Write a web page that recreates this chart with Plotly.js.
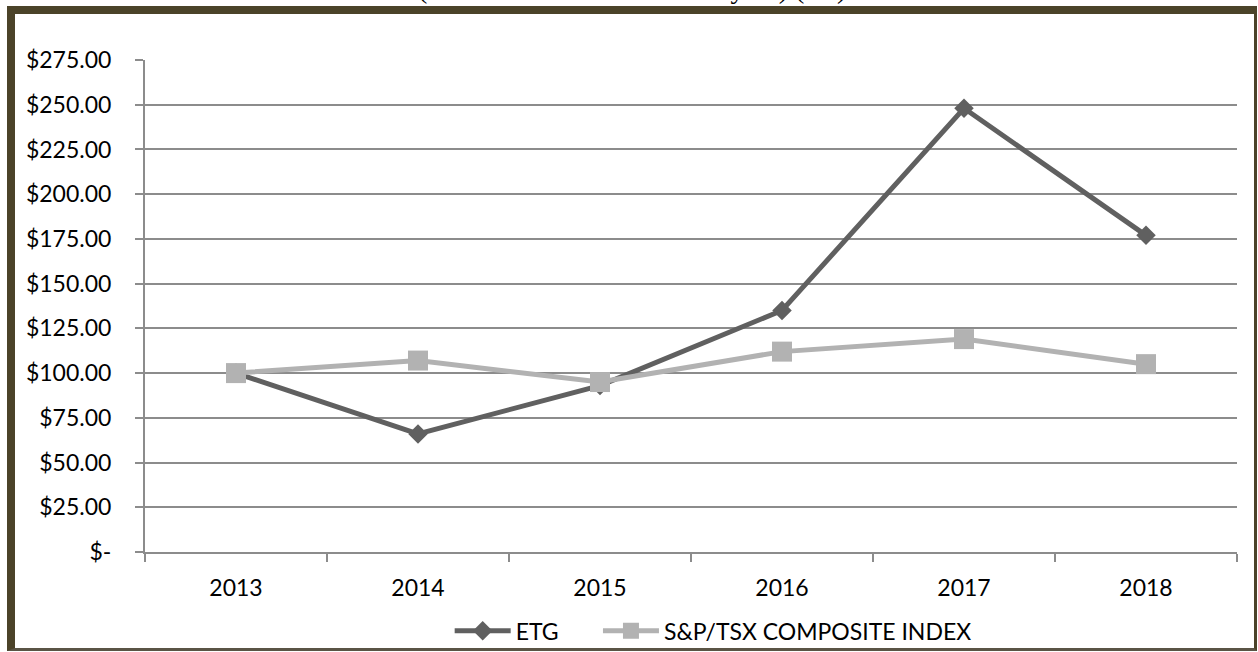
<!DOCTYPE html>
<html>
<head>
<meta charset="utf-8">
<script src="https://cdn.plot.ly/plotly-3.0.1.min.js"></script>
<style>
  html, body { margin: 0; padding: 0; background: #ffffff; }
  #chart { position: absolute; left: 0; top: 0; width: 1258px; height: 652px; }
  #frame { position: absolute; left: 7px; top: 6px; width: 1250px; height: 645px; box-sizing: border-box;
           border-top: 8px solid #4b4329; border-left: 8px solid #4b4329;
           border-right: 3px solid #4b4329; border-bottom: 3px solid #5a5445; pointer-events: none; }
</style>
</head>
<body>
<div id="chart"></div>
<div id="frame"></div>
<script>
const years = ['2013', '2014', '2015', '2016', '2017', '2018'];
const etgValues = [100, 66, 93, 135, 248, 177];
const tsxValues = [100, 107, 95, 112, 119, 105];
const yTickVals = [0, 25, 50, 75, 100, 125, 150, 175, 200, 225, 250, 275];
const yTickText = ['$-', '$25.00', '$50.00', '$75.00', '$100.00', '$125.00', '$150.00', '$175.00', '$200.00', '$225.00', '$250.00', '$275.00'];
const seriesNames = ['ETG', 'S&P/TSX COMPOSITE INDEX'];
const subtitle = '(as at December 31 of each year) (C$)';

const font = 'Lato, "Open Sans", sans-serif';

const etgTrace = {
  x: years, y: etgValues, name: seriesNames[0], type: 'scatter', mode: 'lines+markers',
  legend: 'legend',
  line: { color: '#606060', width: 5 },
  marker: { symbol: 'diamond', size: 15, color: '#606060' }
};
const tsxTrace = {
  x: years, y: tsxValues, name: seriesNames[1], type: 'scatter', mode: 'lines+markers',
  legend: 'legend2',
  line: { color: '#b2b2b2', width: 5 },
  marker: { symbol: 'square', size: 20, color: '#b2b2b2' }
};

const legendFont = { family: font, size: 23, color: '#000000' };

const layout = {
  width: 1258, height: 652,
  margin: { l: 145, r: 21, t: 60, b: 100, autoexpand: false },
  paper_bgcolor: '#ffffff', plot_bgcolor: '#ffffff',
  font: { family: font, size: 23, color: '#000000' },
  showlegend: true,
  legend: {
    orientation: 'h', x: 0.279, xanchor: 'left', y: -0.16, yanchor: 'middle',
    font: legendFont, itemwidth: 56, bgcolor: 'rgba(0,0,0,0)'
  },
  legend2: {
    orientation: 'h', x: 0.4148, xanchor: 'left', y: -0.16, yanchor: 'middle',
    font: legendFont, itemwidth: 56, bgcolor: 'rgba(0,0,0,0)'
  },
  xaxis: {
    type: 'category', range: [-0.5, 5.5], tickson: 'boundaries',
    ticks: 'outside', ticklen: 8, tickwidth: 2, tickcolor: '#8c8c8c',
    showline: true, linecolor: '#8c8c8c', linewidth: 2,
    showgrid: false, zeroline: false, ticklabelstandoff: 14,
    tickfont: { family: font, size: 23, color: '#000000' }
  },
  yaxis: {
    range: [0, 275], tickmode: 'array', tickvals: yTickVals, ticktext: yTickText,
    ticks: 'outside', ticklen: 8, tickwidth: 2, tickcolor: '#8c8c8c',
    showline: true, linecolor: '#8c8c8c', linewidth: 2,
    showgrid: true, gridcolor: '#8c8c8c', gridwidth: 2, zeroline: false,
    ticklabelstandoff: 19,
    tickfont: { family: font, size: 23, color: '#000000' }
  },
  annotations: [{
    text: subtitle, xref: 'paper', yref: 'paper', x: 0.4464, y: 1.1453,
    xanchor: 'center', yanchor: 'middle', showarrow: false,
    font: { family: '"Liberation Serif", "Times New Roman", serif', size: 28, color: '#000000' }
  }]
};

Plotly.newPlot('chart', [etgTrace, tsxTrace], layout, { staticPlot: true, displayModeBar: false });
</script>
</body>
</html>
